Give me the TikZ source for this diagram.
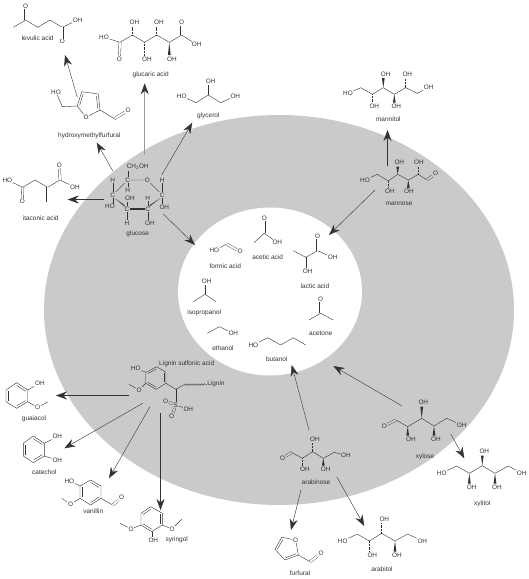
\documentclass[tikz,border=0pt]{standalone}
\usepackage{fontspec}
\setmainfont{Liberation Sans}
\usepackage{tikz}
\usetikzlibrary{arrows.meta,calc,decorations.pathmorphing}
\definecolor{ink}{HTML}{333333}
\definecolor{ringgrey}{HTML}{C8CACC}
\newcommand{\atomfont}{\fontsize{6.4}{7}\selectfont}
\newcommand{\labelfont}{\fontsize{6.5}{7}\selectfont}
\newcommand{\wedgebond}[3]{\fill[ink] (#1,#2) -- (#1+1.4,#3) -- (#1-1.4,#3) -- cycle;}
\newcommand{\innerbond}[3]{\draw[bond] ($(#1)!.8!(#2)$) -- ($(#1)!.8!(#3)$);}
\begin{document}
\begin{tikzpicture}[
   x=1pt, y=-1pt,
   atom/.style={font=\atomfont, color=ink, inner sep=.6pt},
   name label/.style={font=\labelfont, color=ink, inner sep=.5pt},
   bond/.style={line width=0.4pt, color=ink},
   dbond/.style={line width=0.35pt, color=ink, double=white, double distance=2pt},
   dbondgrey/.style={dbond, double=ringgrey},
   hash/.style={line width=1.4pt, color=ink, dash pattern=on .4pt off 1pt},
   heavy/.style={line width=1.3pt, color=ink},
   rxn/.style={-{Stealth[length=11pt,width=8pt]}, line width=0.4pt, color=ink},
   rxngrey/.style={-{Stealth[length=11pt,width=8pt,color=ink]}, line width=0.8pt, color=black!40},
]
  \useasboundingbox (0,0) rectangle (529,579);
  \fill[ringgrey] (279,310) ellipse [x radius=235, y radius=195];
  \fill[white] (270,291.5) ellipse [x radius=92, y radius=84];

  % levulic acid
  \node[atom] (levO1) at (25.7,6) {O};
  \node[atom] (levO2) at (62.3,41.7) {O};
  \node[atom] (levOH) at (77.7,20) {OH};
  \node[name label] (levulic) at (37.7,37.7) {levulic acid};
  \draw[bond] (13.3,27.3) -- (25.7,20) -- (37.7,27.3) -- (50,20) -- (62.3,27.3) -- (levOH);
  \draw[dbond] (25.7,20) -- (levO1);
  \draw[dbond] (62.3,27.3) -- (levO2);

  % glucaric acid
  \node[atom] (garHO) at (104,37.3) {HO};
  \node[atom] (garO1) at (119.3,59) {O};
  \node[atom] (garO2) at (181.7,22.7) {O};
  \node[atom] (garOH) at (196.7,44.7) {OH};
  \node[atom] (garA) at (134.5,22.7) {OH};
  \node[atom] (garB) at (147,59) {OH};
  \node[atom] (garC) at (159,22.7) {OH};
  \node[atom] (garD) at (172,59) {OH};
  \node[name label] (glucaric) at (150.7,75.3) {glucaric acid};
  \draw[bond] (garHO) -- (120,42.3) -- (132.3,35) -- (144.7,42.3) -- (156.7,35) -- (169.3,42.3) -- (181.7,35) -- (garOH);
  \draw[dbond] (120,42.3) -- (garO1);
  \draw[dbond] (181.7,35) -- (garO2);
  \draw[hash] (132.3,35) -- (132.3,26.5);
  \draw[hash] (144.7,42.3) -- (144.7,55);
  \draw[hash] (156.7,35) -- (156.7,26.5);
  \wedgebond{169.3}{42.3}{55}

  % glycerol
  \node[atom] (glyHO) at (181.7,96) {HO};
  \node[atom] (glyOH1) at (235.3,96) {OH};
  \node[atom] (glyOH2) at (210.7,81) {OH};
  \node[name label] (glycerol) at (208.3,115.7) {glycerol};
  \draw[bond] (glyHO) -- (196,102.7) -- (208.3,95) -- (220.7,102.7) -- (glyOH1);
  \draw[bond] (208.3,95) -- (208.3,85);

  % hydroxymethylfurfural
  \node[atom] (hmfHO) at (56,92) {HO};
  \node[atom] (hmfOr) at (86,117.3) {O};
  \node[atom] (hmfO) at (128,110.3) {O};
  \node[name label] (hmf) at (89.3,135.7) {hydroxymethylfurfural};
  \draw[bond] (hmfHO) -- (62.3,106.7) -- (77.3,106) -- (81.7,91.7) -- (98.3,94) -- (100,110) -- (hmfOr) -- (77.3,106);
  \draw[bond] (100,110) -- (114.3,118.7);
  \draw[dbond] (114.3,118.7) -- (hmfO);
  \innerbond{89,103}{77.3,106}{81.7,91.7}
  \innerbond{89,103}{98.3,94}{100,110}

  % itaconic acid
  \node[atom] (itaHO) at (7.3,180) {HO};
  \node[atom] (itaO1) at (22.3,201.7) {O};
  \node[atom] (itaO2) at (59.3,165.7) {O};
  \node[atom] (itaOH) at (75,187.3) {OH};
  \node[name label] (itaconic) at (40.7,218.3) {itaconic acid};
  \draw[bond] (itaHO) -- (22.7,187.3) -- (35,180) -- (47.7,187.3) -- (60,180) -- (itaOH);
  \draw[dbond] (22.7,187.3) -- (itaO1);
  \draw[dbond] (60,180) -- (itaO2);
  \draw[dbond] (47.7,187.3) -- (47.7,201.7);

  % glucose
  \node[atom] (gC1) at (127.7,180) {C};
  \node[atom] (gOr) at (147.3,180) {O};
  \node[atom] (gC2) at (162.3,195) {C};
  \node[atom] (gC3) at (147.7,209) {C};
  \node[atom] (gC4) at (127,209) {C};
  \node[atom] (gC5) at (112.7,195) {C};
  \node[atom] (gCH) at (137.7,166.7) {CH\textsubscript{2}OH};
  \node[atom] (gH1) at (127.7,190) {H};
  \node[atom] (gH2) at (162.3,180) {H};
  \node[atom] (gOH2) at (164.3,207.3) {OH};
  \node[atom] (gH3) at (147.7,198.3) {H};
  \node[atom] (gOH3) at (150,223.3) {OH};
  \node[atom] (gOH4) at (130,198.3) {OH};
  \node[atom] (gH4) at (127,223.3) {H};
  \node[atom] (gH5) at (112.7,180) {H};
  \node[atom] (gHO5) at (110,206.7) {HO};
  \node[name label] (glucose) at (137.7,234.3) {glucose};
  \draw[bond] (gC1) -- (gOr) -- (gC2);
  \draw[bond] (gC5) -- (gC1);
  \draw[heavy] (gC4) -- (gC3);
  \fill[ink] (160.5,198) -- (148.8,207.2) -- (150.3,204.7) -- cycle;
  \fill[ink] (114.5,198) -- (125.4,207.2) -- (124,204.7) -- cycle;
  \draw[bond] (gC1) -- (127.7,170.5);
  \draw[bond] (gC1) -- (gH1);
  \draw[bond] (gC2) -- (gH2);
  \draw[bond] (gC2) -- (162.3,204);
  \draw[bond] (gC3) -- (gH3);
  \draw[bond] (gC3) -- (147.7,220);
  \draw[bond] (gC4) -- (127,202);
  \draw[bond] (gC4) -- (gH4);
  \draw[bond] (gC5) -- (gH5);
  \draw[bond] (gC5) -- (112.7,203.5);

  % mannitol
  \node[atom] (mnlHO) at (348,93.3) {HO};
  \node[atom] (mnlOH) at (428.7,87.3) {OH};
  \node[atom] (mnlA) at (374.3,106) {OH};
  \node[atom] (mnlB) at (385.7,74.3) {OH};
  \node[atom] (mnlC) at (396.3,106) {OH};
  \node[atom] (mnlD) at (407.3,74.3) {OH};
  \node[name label] (mannitol) at (388.3,119.3) {mannitol};
  \draw[bond] (mnlHO) -- (360.7,87.7) -- (372.3,94.3) -- (383.3,87.7) -- (394.3,94.3) -- (405.7,87.7) -- (417.3,93.3) -- (mnlOH);
  \draw[hash] (372.3,94.3) -- (372.3,102.5);
  \wedgebond{383.3}{87.7}{78}
  \wedgebond{394.3}{94.3}{102.5}
  \draw[hash] (405.7,87.7) -- (405.7,78);

  % mannose
  \node[atom] (mnsHO) at (365,180) {HO};
  \node[atom] (mnsO) at (435.7,173.7) {O};
  \node[atom] (mnsA) at (390,191.7) {OH};
  \node[atom] (mnsB) at (399.3,162.7) {OH};
  \node[atom] (mnsC) at (409,191.7) {OH};
  \node[atom] (mnsD) at (419,162.7) {OH};
  \node[name label] (mannose) at (399,204) {mannose};
  \draw[bond] (mnsHO) -- (377.3,174.3) -- (388.3,181) -- (397.7,174.3) -- (408.3,180) -- (418.3,174.3) -- (426.7,180);
  \draw[dbondgrey] (426.7,180) -- (mnsO);
  \draw[hash] (388.3,181) -- (388.3,188);
  \wedgebond{397.7}{174.3}{166.5}
  \wedgebond{408.3}{180}{188}
  \draw[hash] (418.3,174.3) -- (418.3,166.5);

  % formic acid
  \node[atom] (forHO) at (214.3,250.7) {HO};
  \node[atom] (forO) at (240,251.7) {O};
  \node[name label] (formic) at (225.3,265.7) {formic acid};
  \draw[bond] (forHO) -- (226.7,244);
  \draw[dbond] (226.7,244) -- (forO);

  % acetic acid
  \node[atom] (aceO) at (264.3,218.3) {O};
  \node[atom] (aceOH) at (277.3,242.7) {OH};
  \node[name label] (acetic) at (267.7,257) {acetic acid};
  \draw[bond] (254,242.7) -- (264.3,233.3) -- (aceOH);
  \draw[dbond] (264.3,233.3) -- (aceO);

  % lactic acid
  \node[atom] (lacO) at (317.7,236) {O};
  \node[atom] (lacOH1) at (332.7,257.7) {OH};
  \node[atom] (lacOH2) at (307.7,271.7) {OH};
  \node[name label] (lactic) at (315,286) {lactic acid};
  \draw[bond] (293.3,250.7) -- (305.7,257.3) -- (317.7,250.7) -- (lacOH1);
  \draw[bond] (305.7,257.3) -- (305.7,268);
  \draw[dbond] (317.7,250.7) -- (lacO);

  % isopropanol
  \node[atom] (ispOH) at (206.7,281.7) {OH};
  \node[name label] (isopropanol) at (204.3,313) {isopropanol};
  \draw[bond] (193.3,301.7) -- (205,294.3) -- (216,301.7);
  \draw[bond] (205,294.3) -- (205,285.2);

  % acetone
  \node[atom] (actO) at (320.7,299) {O};
  \node[name label] (acetone) at (320.7,333.3) {acetone};
  \draw[bond] (309,320) -- (320.7,313.3) -- (333.3,320);
  \draw[dbond] (320.7,313.3) -- (actO);

  % ethanol
  \node[atom] (ethOH) at (233.3,333.3) {OH};
  \node[name label] (ethanol) at (223,347.7) {ethanol};
  \draw[bond] (207.3,333.3) -- (219.3,326.7) -- (ethOH);

  % butanol
  \node[atom] (butHO) at (253.3,345) {HO};
  \node[name label] (butanol) at (276.7,359.3) {butanol};
  \draw[bond] (butHO) -- (267.7,337.7) -- (280.7,345) -- (293.3,337.7) -- (305.7,345);

  % lignin sulfonic acid
  \node[atom] (ligHO) at (135.7,368.3) {HO};
  \node[atom] (ligO) at (139,390) {O};
  \node[atom] (ligS) at (175.7,405) {S};
  \node[atom] (ligO1) at (165.7,401) {O};
  \node[atom] (ligO2) at (171.7,416.7) {O};
  \node[atom] (ligOH) at (188.3,409.3) {OH};
  \node[atom] (lignin) at (216,384.3) {Lignin};
  \node[name label] (ligsulf) at (186.7,364.3) {Lignin sulfonic acid};
  \draw[bond] (145.7,372.3) -- (156.7,366.7) -- (166,372.3) -- (166,383.3) -- (156,389.3) -- (145.7,383.3) -- cycle;
  \innerbond{156,378}{145.7,372.3}{156.7,366.7}
  \innerbond{156,378}{166,372.3}{166,383.3}
  \innerbond{156,378}{156,389.3}{145.7,383.3}
  \draw[bond] (ligHO) -- (145.7,372.3);
  \draw[bond] (129,384.3) -- (ligO) -- (145.7,383.3);
  \draw[bond] (166,383.3) -- (175.7,389.3) -- (184,384.7);
  \draw[bond, decorate, decoration={snake, amplitude=.8pt, segment length=2.8pt}] (184,384.7) -- (lignin);
  \draw[bond] (175.7,389.3) -- (ligS);
  \draw[dbondgrey] (ligS) -- (ligO1);
  \draw[dbondgrey] (ligS) -- (ligO2);
  \draw[bond] (ligS) -- (ligOH);

  % guaiacol
  \node[atom] (guaOH) at (40,383.3) {OH};
  \node[atom] (guaO) at (37.7,407.3) {O};
  \node[name label] (guaiacol) at (34,418.7) {guaiacol};
  \draw[bond] (6,390) -- (16.7,382.7) -- (27.7,390) -- (27.7,401.7) -- (16.7,408.3) -- (6,401.7) -- cycle;
  \innerbond{16.85,396}{6,401.7}{6,390}
  \innerbond{16.85,396}{16.7,382.7}{27.7,390}
  \innerbond{16.85,396}{27.7,401.7}{16.7,408.3}
  \draw[bond] (27.7,390) -- (guaOH);
  \draw[bond] (27.7,401.7) -- (guaO) -- (48.3,401.7);

  % catechol
  \node[atom] (catOH1) at (57.3,436.7) {OH};
  \node[atom] (catOH2) at (57.3,460) {OH};
  \node[name label] (catechol) at (44.3,471.7) {catechol};
  \draw[bond] (23.3,443.3) -- (33.3,436) -- (44.3,443.3) -- (44.3,456) -- (33.3,462.7) -- (23.3,456) -- cycle;
  \innerbond{33.6,449.3}{23.3,456}{23.3,443.3}
  \innerbond{33.6,449.3}{33.3,436}{44.3,443.3}
  \innerbond{33.6,449.3}{44.3,456}{33.3,462.7}
  \draw[bond] (44.3,443.3) -- (catOH1);
  \draw[bond] (44.3,456) -- (catOH2);

  % vanillin
  \node[atom] (vanHO) at (69.3,481) {HO};
  \node[atom] (vanO1) at (70.7,504.3) {O};
  \node[atom] (vanO2) at (121.7,497.7) {O};
  \node[name label] (vanillin) at (93.3,511) {vanillin};
  \draw[bond] (80,486) -- (90.7,480) -- (101,486) -- (101,498.3) -- (90.7,505) -- (80,498.3) -- cycle;
  \innerbond{90.6,492.4}{90.7,480}{101,486}
  \innerbond{90.6,492.4}{101,498.3}{90.7,505}
  \innerbond{90.6,492.4}{80,498.3}{80,486}
  \draw[bond] (vanHO) -- (80,486);
  \draw[bond] (61.7,498.3) -- (vanO1) -- (80,498.3);
  \draw[bond] (101,498.3) -- (112.7,505);
  \draw[dbond] (112.7,505) -- (vanO2);

  % syringol
  \node[atom] (syrO1) at (131,529) {O};
  \node[atom] (syrO2) at (172,529) {O};
  \node[atom] (syrOH) at (153.3,540.7) {OH};
  \node[name label] (syringol) at (176.7,540) {syringol};
  \draw[bond] (141,513.3) -- (150.7,506.7) -- (162.3,513.3) -- (162.3,525) -- (151.7,531.7) -- (141,525) -- cycle;
  \innerbond{151.5,519.2}{141,513.3}{150.7,506.7}
  \innerbond{151.5,519.2}{162.3,513.3}{162.3,525}
  \innerbond{151.5,519.2}{151.7,531.7}{141,525}
  \draw[bond] (120,523.3) -- (syrO1) -- (141,525);
  \draw[bond] (181.7,519.3) -- (syrO2) -- (162.3,525);
  \draw[bond] (151.7,531.7) -- (151.7,537);

  % arabinose
  \node[atom] (arnO) at (282.7,458.3) {O};
  \node[atom] (arnOH) at (346,455.3) {OH};
  \node[atom] (arnA) at (305,469) {OH};
  \node[atom] (arnB) at (315,439.3) {OH};
  \node[atom] (arnC) at (325.7,469) {OH};
  \node[name label] (arabinose) at (316,482) {arabinose};
  \draw[bond] (291.7,452.3) -- (302.3,458.3) -- (312.7,451.7) -- (323.3,458.3) -- (334.3,452.3) -- (arnOH);
  \draw[dbondgrey] (291.7,452.3) -- (arnO);
  \draw[hash] (302.3,458.3) -- (302.3,465.5);
  \draw[hash] (312.7,451.7) -- (312.7,443);
  \wedgebond{323.3}{458.3}{465.5}

  % xylose
  \node[atom] (xseO) at (384.3,426) {O};
  \node[atom] (xseOH) at (461.7,425) {OH};
  \node[atom] (xseA) at (411,439.3) {OH};
  \node[atom] (xseB) at (423.3,402.7) {OH};
  \node[atom] (xseC) at (436,439.3) {OH};
  \node[name label] (xylose) at (425,456.7) {xylose};
  \draw[bond] (396,420) -- (407.7,426.7) -- (421.7,418.3) -- (434,426) -- (446.7,418.3) -- (xseOH);
  \draw[dbondgrey] (396,420) -- (xseO);
  \wedgebond{407.7}{426.7}{435.5}
  \wedgebond{421.7}{418.3}{406.5}
  \wedgebond{434}{426}{435.5}

  % xylitol
  \node[atom] (xolHO) at (441.7,473) {HO};
  \node[atom] (xolOH) at (521.7,473.3) {OH};
  \node[atom] (xolA) at (471.7,487.3) {OH};
  \node[atom] (xolB) at (484.3,451.7) {OH};
  \node[atom] (xolC) at (497,487.3) {OH};
  \node[name label] (xylitol) at (482.3,504) {xylitol};
  \draw[bond] (xolHO) -- (456.7,466) -- (469.3,473.3) -- (482.3,465.7) -- (495,473.3) -- (508.3,466) -- (xolOH);
  \wedgebond{469.3}{473.3}{483.5}
  \wedgebond{482.3}{465.7}{455.5}
  \wedgebond{495}{473.3}{483.5}

  % arabitol
  \node[atom] (atlHO) at (342.7,541) {HO};
  \node[atom] (atlOH) at (422.3,541) {OH};
  \node[atom] (atlA) at (372.3,555) {OH};
  \node[atom] (atlB) at (384.3,519.3) {OH};
  \node[atom] (atlC) at (397,555) {OH};
  \node[name label] (arabitol) at (382,569.3) {arabitol};
  \draw[bond] (atlHO) -- (357.3,534) -- (369.3,541) -- (381.7,533.3) -- (395,541) -- (407.7,534) -- (atlOH);
  \draw[hash] (369.3,541) -- (369.3,551.5);
  \draw[hash] (381.7,533.3) -- (381.7,523);
  \wedgebond{395}{541}{551.5}

  % furfural
  \node[atom] (furOr) at (295.7,540) {O};
  \node[atom] (furO) at (321,553.3) {O};
  \node[name label] (furfural) at (300,573.3) {furfural};
  \draw[bond] (furOr) -- (281.7,537.3) -- (275,549.3) -- (285,560) -- (298.3,555) -- (furOr);
  \innerbond{287,549}{281.7,537.3}{275,549.3}
  \innerbond{287,549}{285,560}{298.3,555}
  \draw[bond] (298.3,555) -- (310,561.7);
  \draw[dbond] (310,561.7) -- (furO);

  % reaction arrows
  \coordinate (hmfOut) at (77.3,97.3);
  \coordinate (levIn) at (65,55);
  \coordinate (gluTop) at (144.7,155);
  \coordinate (garIn) at (144.7,83.3);
  \coordinate (gluRight) at (161.7,175);
  \coordinate (glyIn) at (192.3,122.7);
  \coordinate (gluLeft) at (112.7,170.7);
  \coordinate (hmfIn) at (96.7,142.5);
  \coordinate (gluSide) at (104,199.5);
  \coordinate (itaIn) at (67.7,199.5);
  \coordinate (gluLow) at (163.3,214);
  \coordinate (ctrA) at (195,245);
  \coordinate (mnsUp) at (387.5,166);
  \coordinate (mnlIn) at (387.5,130);
  \coordinate (mnsDown) at (375,190);
  \coordinate (ctrB) at (329,235);
  \coordinate (ligA) at (129.3,395.5);
  \coordinate (guaIn) at (56,395.5);
  \coordinate (ligB) at (142.7,403.3);
  \coordinate (catIn) at (64.3,448.3);
  \coordinate (ligC) at (150,406.7);
  \coordinate (vanIn) at (109,478.3);
  \coordinate (ligD) at (160.5,413.3);
  \coordinate (syrIn) at (160.5,510);
  \coordinate (arnUp) at (309,430);
  \coordinate (ctrC) at (291.7,365);
  \coordinate (xseUp) at (401.7,405.7);
  \coordinate (ctrD) at (333.3,366);
  \coordinate (xseDown) at (450.7,434);
  \coordinate (xolIn) at (464.3,458.3);
  \coordinate (arnRight) at (336.7,476.7);
  \coordinate (atlIn) at (364.3,526);
  \coordinate (arnDown) at (301,490);
  \coordinate (furIn) at (291,530);
  \draw[rxn] (hmfOut) -- (levIn);
  \draw[rxngrey] (gluTop) -- (garIn);
  \draw[rxn] (gluRight) -- (glyIn);
  \draw[rxn] (gluLeft) -- (hmfIn);
  \draw[rxn] (gluSide) -- (itaIn);
  \draw[rxn] (gluLow) -- (ctrA);
  \draw[rxn] (mnsUp) -- (mnlIn);
  \draw[rxn] (mnsDown) -- (ctrB);
  \draw[rxn] (ligA) -- (guaIn);
  \draw[rxn] (ligB) -- (catIn);
  \draw[rxn] (ligC) -- (vanIn);
  \draw[rxn] (ligD) -- (syrIn);
  \draw[rxn] (arnUp) -- (ctrC);
  \draw[rxn] (xseUp) -- (ctrD);
  \draw[rxn] (xseDown) -- (xolIn);
  \draw[rxn] (arnRight) -- (atlIn);
  \draw[rxn] (arnDown) -- (furIn);
\end{tikzpicture}
\end{document}
